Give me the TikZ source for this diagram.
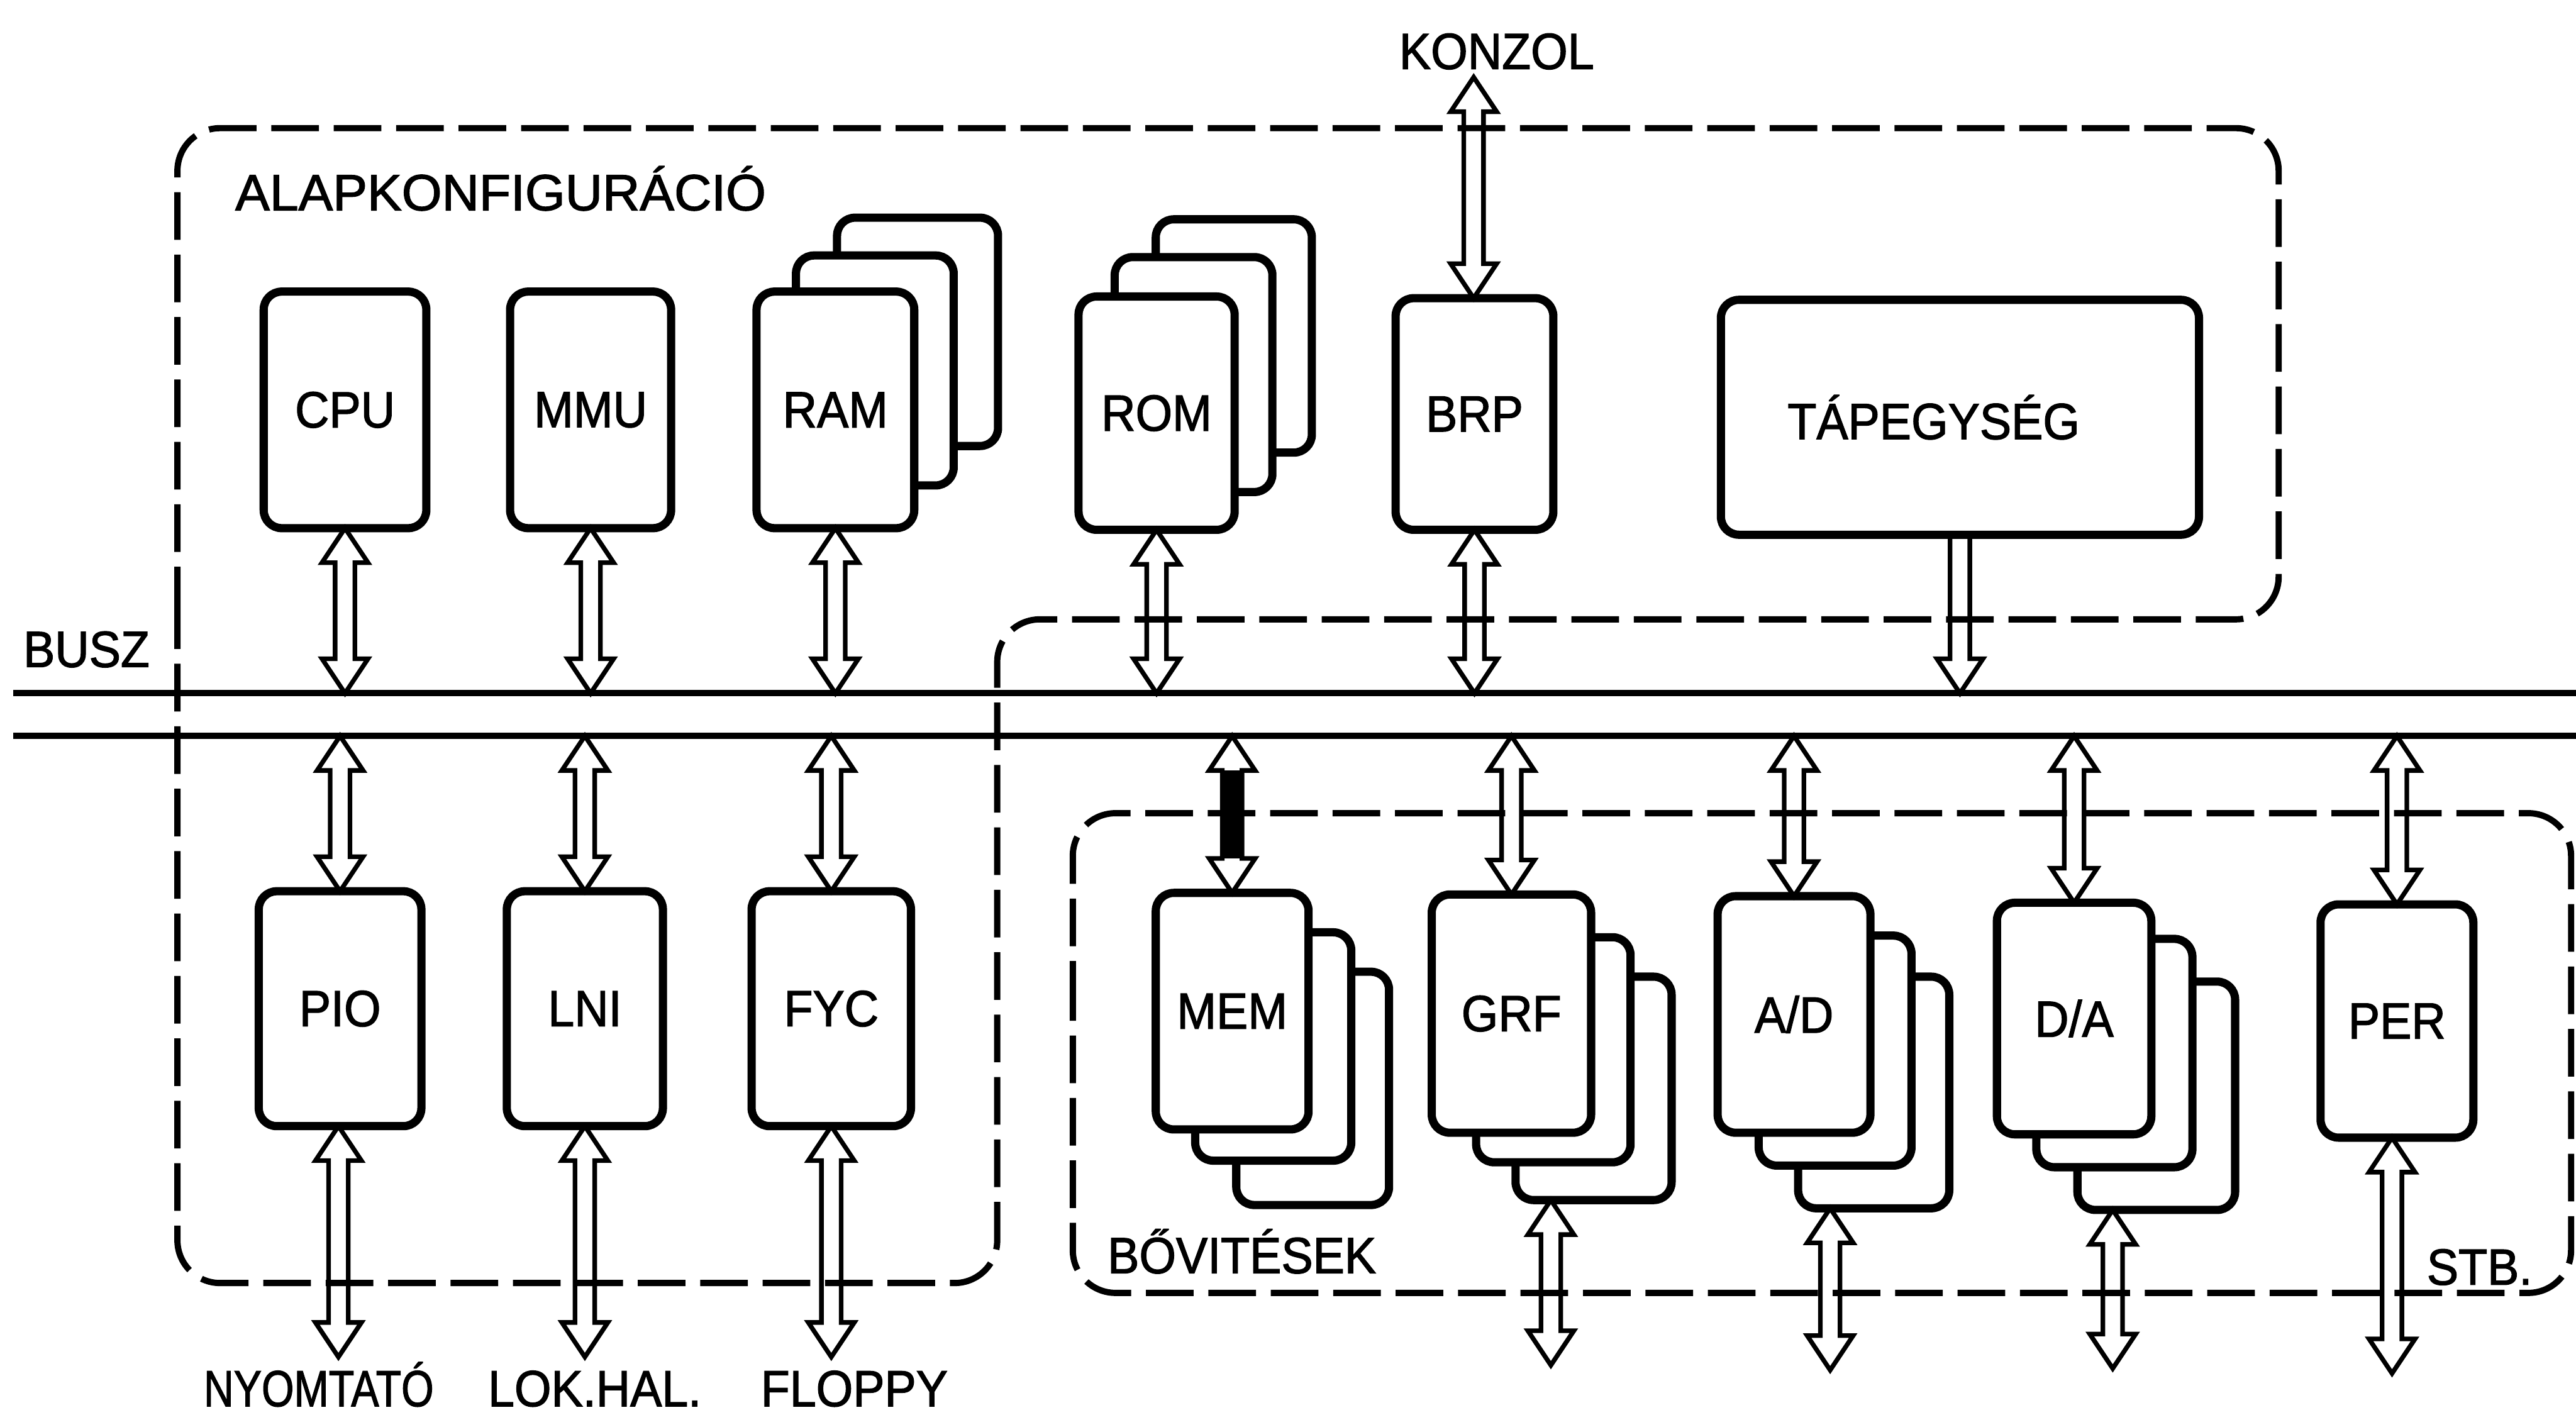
\documentclass[tikz,border=0pt]{standalone}
\usepackage{fontspec}
\setmainfont{Liberation Sans}
\newfontfamily\lblfont{Liberation Sans}[FakeStretch=0.93,FakeBold=1.6]
\usetikzlibrary{calc}
\tikzset{
  box/.style={draw, line width=5pt, rounded corners=11pt, fill=white, inner sep=0pt, outer sep=0pt,
    font=\lblfont\fontsize{31}{31}\selectfont},
  arr/.style={draw, line width=2.8pt, line join=miter},
  bus/.style={line width=3.8pt},
  region/.style={line width=3.8pt, dash pattern=on 29pt off 9pt, rounded corners=26pt},
  lbl/.style={inner sep=0pt, font=\lblfont\fontsize{31}{31}\selectfont}
}
\newcommand\bx[6]{\node[box, minimum width={#4-#2-5}, minimum height={#5-#3-5}] (#1) at ({(#2+#4)/2},{(#3+#5)/2}) {#6};}
\newcommand\biarr[2]{\draw[arr] let \p1=(#1), \p2=(#2) in (\x1,\y1) -- ({\x1+14pt},{\y1-21pt}) -- ({\x1+6pt},{\y1-21pt}) -- ({\x1+6pt},{\y2+21pt}) -- ({\x1+14pt},{\y2+21pt}) -- (\x1,\y2) -- ({\x1-14pt},{\y2+21pt}) -- ({\x1-6pt},{\y2+21pt}) -- ({\x1-6pt},{\y1-21pt}) -- ({\x1-14pt},{\y1-21pt}) -- cycle;}
\newcommand\biarrfill[2]{\fill let \p1=(#1), \p2=(#2) in ({\x1-6pt},{\y1-21pt}) rectangle ({\x1+6pt},{\y2+21pt});\biarr{#1}{#2}}
\newcommand\downarr[2]{\draw[arr] let \p1=(#1), \p2=(#2) in ({\x1-6pt},\y1) -- ({\x1+6pt},\y1) -- ({\x1+6pt},{\y2+21pt}) -- ({\x1+14pt},{\y2+21pt}) -- (\x1,\y2) -- ({\x1-14pt},{\y2+21pt}) -- ({\x1-6pt},{\y2+21pt}) -- cycle;}
\begin{document}
\begin{tikzpicture}[x=1pt,y=-1pt]
\useasboundingbox (0,0) rectangle (1568,861);
\fill[white] (0,0) rectangle (1568,861);

% dashed regions
\draw[region] (108,400) -- (108,78) -- (1387,78) -- (1387,377) -- (607,377) -- (607,781) -- (108,781) -- cycle;
\draw[region] (653,640) -- (653,495) -- (1565,495) -- (1565,787) -- (653,787) -- cycle;

% bus
\coordinate (busT) at (0,422);
\coordinate (busB) at (0,448);
\draw[bus] (8,422) -- (1568,422);
\draw[bus] (8,448) -- (1568,448);

% upper boxes
\bx{cpu}{158}{175}{262}{324}{CPU}
\bx{mmu}{308}{175}{411}{324}{MMU}
\bx{ram3}{507}{130}{610}{274}{}
\bx{ram2}{482}{153}{583}{298}{}
\bx{ram}{458}{175}{559}{324}{RAM}
\bx{rom3}{701}{131}{801}{278}{}
\bx{rom2}{676}{154}{777}{302}{}
\bx{rom}{654}{178}{754}{325}{ROM}
\bx{brp}{847}{179}{948}{325}{BRP}
\bx{tap}{1045}{180}{1341}{328}{TÁPEGYSÉG\hspace*{32pt}}

% lower-left boxes
\bx{pio}{155}{540}{259}{688}{PIO}
\bx{lni}{306}{540}{406}{688}{LNI}
\bx{fyc}{455}{540}{557}{688}{FYC}

% lower-right boxes
\bx{mem3}{750}{589}{848}{736}{}
\bx{mem2}{725}{565}{825}{709}{}
\bx{mem}{701}{541}{799}{690}{MEM}
\bx{grf3}{920}{592}{1020}{733}{}
\bx{grf2}{896}{568}{995}{710}{}
\bx{grf}{869}{542}{971}{692}{GRF}
\bx{ad3}{1092}{592}{1189}{738}{}
\bx{ad2}{1068}{567}{1166}{712}{}
\bx{ad}{1043}{543}{1141}{692}{A/D}
\bx{da3}{1262}{595}{1363}{739}{}
\bx{da2}{1237}{569}{1337}{713}{}
\bx{da}{1213}{547}{1312}{693}{D/A}
\bx{per}{1410}{548}{1508}{695}{PER}

% labels
\node[lbl, anchor=base] (konzol) at (911,42) {KONZOL};
\node[lbl, anchor=base west, xscale=1.09] (alap) at (143,128) {ALAPKONFIGURÁCIÓ};
\node[lbl, anchor=base west] (busz) at (14,406) {BUSZ};
\node[lbl, anchor=base, xscale=0.88] (nyomt) at (194,856) {NYOMTATÓ};
\node[lbl, anchor=base] (lok) at (362,856) {LOK.HAL.};
\node[lbl, anchor=base] (flop) at (520,856) {FLOPPY};
\node[lbl, anchor=base west] (bov) at (674,775) {BŐVITÉSEK};
\node[lbl, anchor=base west] (stb) at (1477,782) {STB.};

% free ends
\coordinate (konzolend) at (897,47);
\coordinate (pioend) at (206,826);
\coordinate (lniend) at (356,826);
\coordinate (fycend) at (506,826);
\coordinate (grfend) at (944,831);
\coordinate (adend) at (1114,834);
\coordinate (daend) at (1286,833);
\coordinate (perend) at (1456,836);

% upper arrows
\biarr{cpu.south}{cpu.south |- busT}
\biarr{mmu.south}{mmu.south |- busT}
\biarr{ram.south}{ram.south |- busT}
\biarr{rom.south}{rom.south |- busT}
\biarr{brp.south}{brp.south |- busT}
\biarr{konzolend}{konzolend |- brp.north}
\downarr{tap.south}{tap.south |- busT}

% lower-left arrows
\biarr{pio.north |- busB}{pio.north}
\biarr{lni.north |- busB}{lni.north}
\biarr{fyc.north |- busB}{fyc.north}
\biarr{pioend |- pio.south}{pioend}
\biarr{lniend |- lni.south}{lniend}
\biarr{fycend |- fyc.south}{fycend}

% lower-right arrows
\biarrfill{mem.north |- busB}{mem.north}
\biarr{grf.north |- busB}{grf.north}
\biarr{ad.north |- busB}{ad.north}
\biarr{da.north |- busB}{da.north}
\biarr{per.north |- busB}{per.north}
\biarr{grfend |- grf3.south}{grfend}
\biarr{adend |- ad3.south}{adend}
\biarr{daend |- da3.south}{daend}
\biarr{perend |- per.south}{perend}
\end{tikzpicture}
\end{document}
